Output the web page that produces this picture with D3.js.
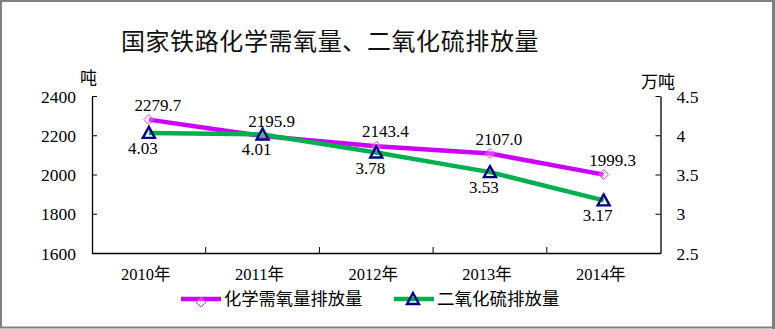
<!DOCTYPE html>
<html><head><meta charset="utf-8">
<script src="https://cdn.jsdelivr.net/npm/d3@7"></script>
<style>
html,body{margin:0;padding:0;background:#fff;}
svg{display:block;}
</style>
</head><body>
<svg id="c" width="775" height="329"></svg>
<script>
const years = ["2010年","2011年","2012年","2013年","2014年"];
const codValues = [2279.7, 2195.9, 2143.4, 2107.0, 1999.3];
const so2Values = [4.03, 4.01, 3.78, 3.53, 3.17];
const leftTicks = [1600, 1800, 2000, 2200, 2400];
const rightTicks = [2.5, 3, 3.5, 4, 4.5];
const seriesNames = ["化学需氧量排放量", "二氧化硫排放量"];
const titleText = "国家铁路化学需氧量、二氧化硫排放量";

const svg = d3.select("#c");
const W = 775, H = 329;
const L = 92, R = 660.5, T = 96, B = 253;
const serif = "Liberation Serif, Times New Roman, serif";
const cjk = "Noto Sans CJK SC, Noto Sans, sans-serif";

svg.append("rect").attr("x",0).attr("y",0).attr("width",W).attr("height",H).attr("fill","#fff");
// frame
svg.append("rect").attr("x",1).attr("y",1).attr("width",W-2.5).attr("height",H-2.5)
  .attr("fill","none").attr("stroke","#808080").attr("stroke-width",2);
svg.append("line").attr("x1",773.5).attr("x2",773.5).attr("y1",0).attr("y2",H).attr("stroke","#808080").attr("stroke-width",3);

const x = d3.scaleBand().domain(years).range([L, R]);
const yL = d3.scaleLinear().domain([1600, 2400]).range([B, T]);
const yR = d3.scaleLinear().domain([2.5, 4.5]).range([B, T]);

// title
svg.append("text").attr("x", 330).attr("y", 50).attr("text-anchor","middle")
  .style("font-family", cjk).attr("font-size", 24).attr("letter-spacing", 0.6).attr("fill","#111")
  .text(titleText);

// axes
const axL = svg.append("g").attr("transform",`translate(${L},0)`)
  .call(d3.axisLeft(yL).tickValues(leftTicks).tickFormat(d3.format("d")).tickSizeInner(-5).tickSizeOuter(0).tickPadding(16));
const axR = svg.append("g").attr("transform",`translate(${R},0)`)
  .call(d3.axisRight(yR).tickValues(rightTicks).tickFormat(d3.format("")).tickSizeInner(-5).tickSizeOuter(0).tickPadding(16));
const axB = svg.append("g").attr("transform",`translate(0,${B})`)
  .call(d3.axisBottom(x).tickSizeInner(0).tickSizeOuter(0).tickPadding(15));
// bottom boundary ticks (between categories)
svg.append("g").selectAll("line").data(years.slice(1)).join("line")
  .attr("x1", d => x(d)).attr("x2", d => x(d)).attr("y1", B).attr("y2", B-6)
  .attr("stroke","#000").attr("stroke-width",1);

[axL, axR, axB].forEach(g => {
  g.attr("font-family", null);
  g.selectAll("path.domain").attr("stroke","#000").attr("stroke-width",1.3);
  g.selectAll(".tick line").attr("stroke","#000");
  g.selectAll("text").style("font-family", serif).attr("font-size", 17.5).attr("fill","#000");
});
axB.selectAll("text").style("font-family", "Liberation Serif, Noto Sans CJK SC, serif").attr("font-size",16.5).attr("dx",-3);
axL.selectAll(".tick text").attr("dy","0.35em");
axR.selectAll(".tick text").attr("dy","0.35em");

// unit labels
svg.append("text").attr("x", 80).attr("y", 84).style("font-family", cjk).attr("font-size",17).text("吨");
svg.append("text").attr("x", 641).attr("y", 88).style("font-family", cjk).attr("font-size",17).text("万吨");

const cx = d => x(d) + x.bandwidth()/2;

// COD line
const codColor = "#CC00FF";
const lineCod = d3.line().x((d,i) => cx(years[i])).y(d => yL(d));
svg.append("path").datum(codValues).attr("d", lineCod)
  .attr("fill","none").attr("stroke", codColor).attr("stroke-width",4.5).attr("stroke-linejoin","round");

// SO2 line
const so2Color = "#00B050";
const lineSo2 = d3.line().x((d,i) => cx(years[i])).y(d => yR(d));
svg.append("path").datum(so2Values).attr("d", lineSo2)
  .attr("fill","none").attr("stroke", so2Color).attr("stroke-width",4.5).attr("stroke-linejoin","round");

function diamond(g, px, py){
  g.append("path").attr("d", `M${px},${py-5}L${px+5},${py}L${px},${py+5}L${px-5},${py}Z`)
    .attr("fill","#fff").attr("fill-opacity",0.25).attr("stroke","#FF33FF").attr("stroke-width",1);
}
function triangle(g, px, py){
  g.append("path").attr("d", `M${px},${py-6}L${px+6},${py+5}L${px-6},${py+5}Z`)
    .attr("fill","none").attr("stroke","#000080").attr("stroke-width",2.4).attr("stroke-linejoin","miter");
}
const mk = svg.append("g");
codValues.forEach((v,i) => diamond(mk, cx(years[i]), yL(v)));
so2Values.forEach((v,i) => triangle(mk, cx(years[i]), yR(v)));

// data labels
svg.append("g").selectAll("text").data(codValues).join("text")
  .attr("x", (d,i) => cx(years[i]) + 9).attr("y", d => yL(d) - 9)
  .attr("text-anchor","middle").style("font-family", serif).attr("font-size",17).attr("fill","#000")
  .text(d => d.toFixed(1));
svg.append("g").selectAll("text").data(so2Values).join("text")
  .attr("x", (d,i) => cx(years[i]) - 6).attr("y", d => yR(d) + 21)
  .attr("text-anchor","middle").style("font-family", serif).attr("font-size",17).attr("fill","#000")
  .text(d => d.toFixed(2));

// legend
const lg = svg.append("g");
const ly = 299;
lg.append("line").attr("x1",181).attr("x2",221).attr("y1",ly).attr("y2",ly).attr("stroke",codColor).attr("stroke-width",4.5);
diamond(lg, 201, ly+3);
lg.append("text").attr("x",224).attr("y",ly+6).style("font-family",cjk).attr("font-size",17.3).text(seriesNames[0]);
lg.append("line").attr("x1",394).attr("x2",434).attr("y1",ly).attr("y2",ly).attr("stroke",so2Color).attr("stroke-width",4.5);
triangle(lg, 413, ly);
lg.append("text").attr("x",437).attr("y",ly+6).style("font-family",cjk).attr("font-size",17.5).text(seriesNames[1]);
</script>
</body></html>
